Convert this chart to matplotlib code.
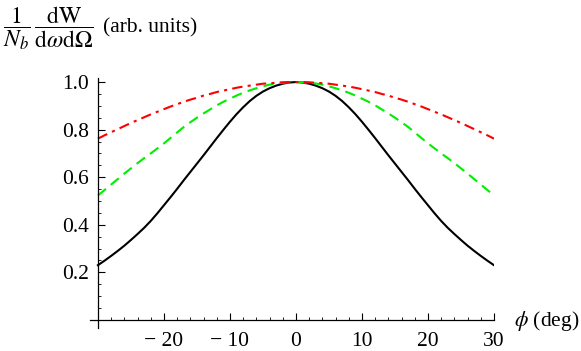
import matplotlib
matplotlib.use("Agg")
import matplotlib.pyplot as plt
from matplotlib.ticker import MultipleLocator, FixedLocator

# angle in degrees, 0..30 (curves are symmetric, mirrored below)
phi_half = list(range(0, 31))
# normalised spectra, one value per degree
black_half = [1.000, 0.998, 0.993, 0.985, 0.974, 0.960, 0.942, 0.920, 0.894, 0.865,
              0.833, 0.799, 0.764, 0.728, 0.692, 0.657, 0.622, 0.587, 0.551, 0.516,
              0.482, 0.448, 0.416, 0.387, 0.361, 0.336, 0.312, 0.290, 0.269, 0.249,
              0.230]
green_half = [1.000, 0.999, 0.997, 0.994, 0.989, 0.982, 0.974, 0.965, 0.955, 0.943,
              0.930, 0.917, 0.902, 0.885, 0.868, 0.850, 0.831, 0.811, 0.788, 0.765,
              0.742, 0.721, 0.700, 0.680, 0.659, 0.637, 0.615, 0.592, 0.569, 0.546,
              0.523]
red_half = [1.000, 1.000, 0.999, 0.997, 0.995, 0.993, 0.989, 0.985, 0.981, 0.976,
            0.970, 0.964, 0.958, 0.950, 0.943, 0.934, 0.926, 0.917, 0.907, 0.897,
            0.886, 0.875, 0.864, 0.852, 0.840, 0.828, 0.815, 0.802, 0.789, 0.776,
            0.762]

phi = [-p for p in phi_half[:0:-1]] + phi_half
black = black_half[:0:-1] + black_half
green = green_half[:0:-1] + green_half
red = red_half[:0:-1] + red_half

xticks = [-20, -10, 0, 10, 20, 30]
xtick_labels = ["\u2212 20", "\u2212 10", "0", "10", "20", "30"]
yticks = [0.2, 0.4, 0.6, 0.8, 1.0]
ytick_labels = ["0.2", "0.4", "0.6", "0.8", "1.0"]

plt.rcParams["font.family"] = ["Liberation Serif", "DejaVu Serif"]
plt.rcParams["mathtext.fontset"] = "stix"

fig = plt.figure(figsize=(5.81, 3.51), dpi=100)
ax = fig.add_axes([90 / 581, 23 / 351, 404 / 581, 250 / 351])

ax.plot(phi, black, color="black", lw=1.5)
ax.plot(phi, green, color="#00ee00", lw=1.5, dashes=(5, 3))
ax.plot(phi, red, color="#ff0000", lw=1.5, dashes=(5, 2.5, 1.5, 2.5))

ax.set_xlim(-31.2, 30)
ax.set_ylim(-0.034, 1.017)

ax.spines["top"].set_visible(False)
ax.spines["right"].set_visible(False)
ax.spines["left"].set_position(("data", -30))
ax.spines["bottom"].set_position(("data", 0))
for s in ("left", "bottom"):
    ax.spines[s].set_linewidth(0.9)

ax.xaxis.set_major_locator(FixedLocator(xticks))
ax.set_xticklabels(xtick_labels)
ax.xaxis.set_minor_locator(MultipleLocator(2))
ax.yaxis.set_major_locator(FixedLocator(yticks))
ax.set_yticklabels(ytick_labels)
ax.yaxis.set_minor_locator(MultipleLocator(0.05))
ax.tick_params(which="major", direction="in", length=5, width=0.8, labelsize=15.5)
ax.tick_params(which="minor", direction="in", length=2.5, width=0.6)
ax.tick_params(axis="x", which="major", pad=8.5)
ax.tick_params(axis="y", which="major", pad=6.5)

fig.text(0.885, (351 - 321) / 351, r"$\phi$ (deg)", fontsize=15.5,
         ha="left", va="center")
# y label drawn as two pieces: the fractions, then the units
fig.text(3 / 581, 1 - 28 / 351,
         r"$\dfrac{1}{N_b}\,\dfrac{\mathrm{dW}}{\mathrm{d}\omega\mathrm{d}\Omega}$",
         fontsize=17, ha="left", va="center")
fig.text(103 / 581, 1 - 28 / 351, "(arb. units)", fontsize=15.5,
         ha="left", va="center")

fig.savefig("out.png", dpi=100)
